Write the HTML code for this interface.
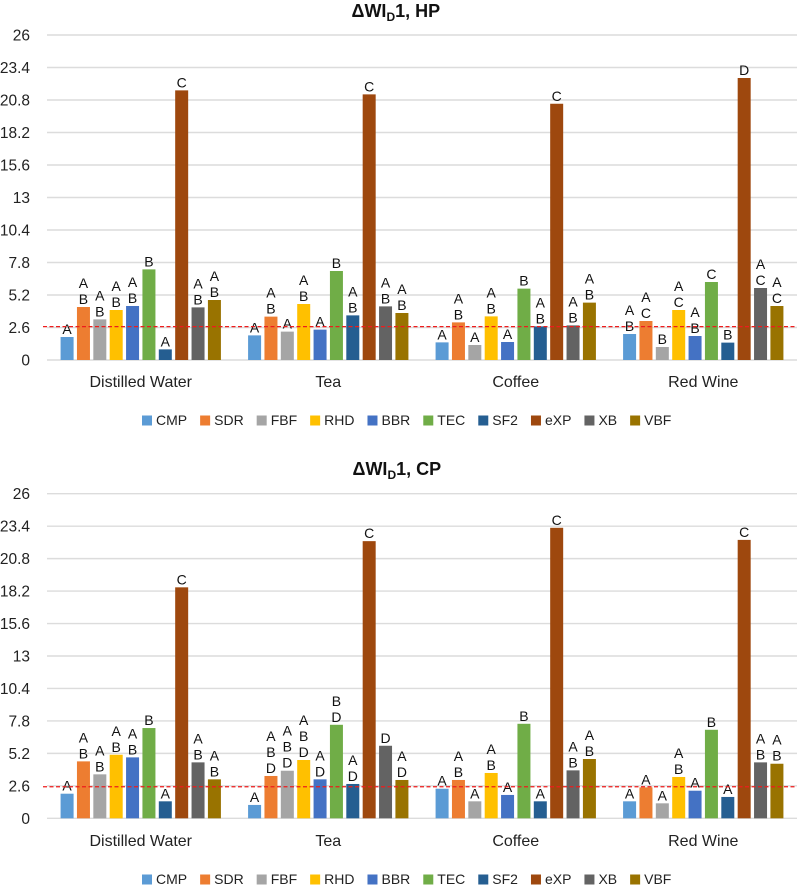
<!DOCTYPE html>
<html lang="en">
<head>
<meta charset="utf-8">
<title>WI-D chart</title>
<style>
html,body{margin:0;padding:0;background:#fff;}
svg{display:block;}
text{font-family:"Liberation Sans",sans-serif;}
</style>
</head>
<body>
<svg id="root" width="800" height="888" viewBox="0 0 800 888" xmlns="http://www.w3.org/2000/svg">
  <rect x="0" y="0" width="800" height="888" fill="#ffffff"/>
  <text x="351.5" y="17" font-size="18" font-weight="bold" fill="#111">ΔWI<tspan font-size="12" dy="4">D</tspan><tspan dy="-4">1, HP</tspan></text>
  <text x="352.5" y="475" font-size="18" font-weight="bold" fill="#111">ΔWI<tspan font-size="12" dy="4">D</tspan><tspan dy="-4">1, CP</tspan></text>
</svg>
<script>
const categories = ["Distilled Water", "Tea", "Coffee", "Red Wine"];
const seriesNames = ["CMP", "SDR", "FBF", "RHD", "BBR", "TEC", "SF2", "eXP", "XB", "VBF"];
const seriesColors = ["#5b9bd5", "#ed7d31", "#a5a5a5", "#ffc000", "#4472c4", "#70ad47", "#255e91", "#9e480e", "#636363", "#997300"];
const yTicks = [0, 2.6, 5.2, 7.8, 10.4, 13, 15.6, 18.2, 20.8, 23.4, 26];

const hpDistilled = [1.84, 4.24, 3.25, 4.0, 4.32, 7.25, 0.85, 21.57, 4.21, 4.8];
const hpTea = [1.97, 3.47, 2.27, 4.48, 2.43, 7.12, 3.57, 21.25, 4.29, 3.76];
const hpCoffee = [1.41, 3.01, 1.2, 3.49, 1.44, 5.71, 2.69, 20.5, 2.77, 4.59];
const hpWine = [2.08, 3.12, 1.04, 4.0, 1.92, 6.24, 1.39, 22.56, 5.76, 4.32];
const hpThreshold = 2.67;

const cpDistilled = [1.97, 4.56, 3.52, 5.09, 4.88, 7.23, 1.36, 18.5, 4.48, 3.12];
const cpTea = [1.07, 3.39, 3.81, 4.67, 3.12, 7.49, 2.75, 22.2, 5.81, 3.07];
const cpCoffee = [2.37, 3.07, 1.36, 3.63, 1.87, 7.57, 1.36, 23.27, 3.84, 4.75];
const cpWine = [1.36, 2.48, 1.2, 3.31, 2.21, 7.09, 1.71, 22.3, 4.48, 4.37];
const cpThreshold = 2.53;

const hpLetters = [
  ["A", "AB", "AB", "AB", "AB", "B", "A", "C", "AB", "AB"],
  ["A", "AB", "A", "AB", "A", "B", "AB", "C", "AB", "AB"],
  ["A", "AB", "A", "AB", "A", "B", "AB", "C", "AB", "AB"],
  ["AB", "AC", "B", "AC", "AB", "C", "B", "D", "AC", "AC"]
];
const cpLetters = [
  ["A", "AB", "AB", "AB", "AB", "B", "A", "C", "AB", "AB"],
  ["A", "ABD", "ABD", "ABD", "AD", "BD", "AD", "C", "D", "AD"],
  ["A", "AB", "A", "AB", "A", "B", "A", "C", "AB", "AB"],
  ["A", "A", "A", "AB", "A", "B", "A", "C", "AB", "AB"]
];

const NS = "http://www.w3.org/2000/svg";
const root = document.getElementById("root");

function make(tag, attrs, parent) {
  const el = document.createElementNS(NS, tag);
  for (const k in attrs) el.setAttribute(k, attrs[k]);
  parent.appendChild(el);
  return el;
}

function drawChart(prefix, frame, groups, letters, threshold) {
  const plotLeft = 47, plotRight = 797, yMax = 26;
  const groupW = (plotRight - plotLeft) / categories.length;
  const barStep = 16.37, barW = 13;
  const yScale = v => frame.base - (v / yMax) * (frame.base - frame.top);
  const groupX = g => plotLeft + g * groupW;
  const barX = (g, s) => groupX(g) + (groupW - seriesNames.length * barStep + (barStep - barW)) / 2 + s * barStep;

  const chart = make("g", {}, root);
  
  

  yTicks.forEach(t => {
    const grid = make("line", {x1: plotLeft, x2: plotRight, y1: yScale(t), y2: yScale(t), stroke: "#dcdcdc", "stroke-width": 1.4}, chart);
    
    
    const label = make("text", {x: 30, y: yScale(t) + 5.5, "text-anchor": "end", "font-size": 15.5, fill: "#222"}, chart);
    
    
    label.textContent = String(t);
  });

  categories.forEach((cat, g) => {
    const catLabel = make("text", {x: groupX(g) + groupW / 2, y: frame.catY, "text-anchor": "middle", "font-size": 16, fill: "#222"}, chart);
    
    
    catLabel.textContent = cat;

    groups[g].forEach((v, s) => {
      const top = yScale(v);
      const bar = make("rect", {x: barX(g, s), y: top, width: barW, height: frame.base - top, fill: seriesColors[s]}, chart);
      
      

      const chars = letters[g][s].split("");
      chars.forEach((ch, i) => {
        const sig = make("text", {
          x: barX(g, s) + barW / 2,
          y: top - 3 - (chars.length - 1 - i) * 16,
          "text-anchor": "middle", "font-size": 14, fill: "#111"
        }, chart);
        
        
        sig.textContent = ch;
      });
    });
  });

  const refLine = make("line", {x1: 43, x2: plotRight, y1: yScale(threshold), y2: yScale(threshold), stroke: "#ee1c1c", "stroke-width": 1.3, "stroke-dasharray": "4 2.5"}, chart);
  
  

  const legend = make("g", {}, chart);
  
  
  let cursor = 0;
  seriesNames.forEach((name, s) => {
    const swatch = make("rect", {x: cursor, y: -9.5, width: 10, height: 10, fill: seriesColors[s]}, legend);
    
    
    const txt = make("text", {x: cursor + 14, y: 0, "font-size": 14, fill: "#222"}, legend);
    
    
    txt.textContent = name;
    cursor += 14 + txt.getComputedTextLength() + 13;
  });
  legend.setAttribute("transform", "translate(142," + frame.legendY + ")");
}

drawChart("hp", {top: 35, base: 360, catY: 387, legendY: 425},
  [hpDistilled, hpTea, hpCoffee, hpWine], hpLetters, hpThreshold);
drawChart("cp", {top: 493.7, base: 818.3, catY: 846, legendY: 884},
  [cpDistilled, cpTea, cpCoffee, cpWine], cpLetters, cpThreshold);
</script>
</body>
</html>
